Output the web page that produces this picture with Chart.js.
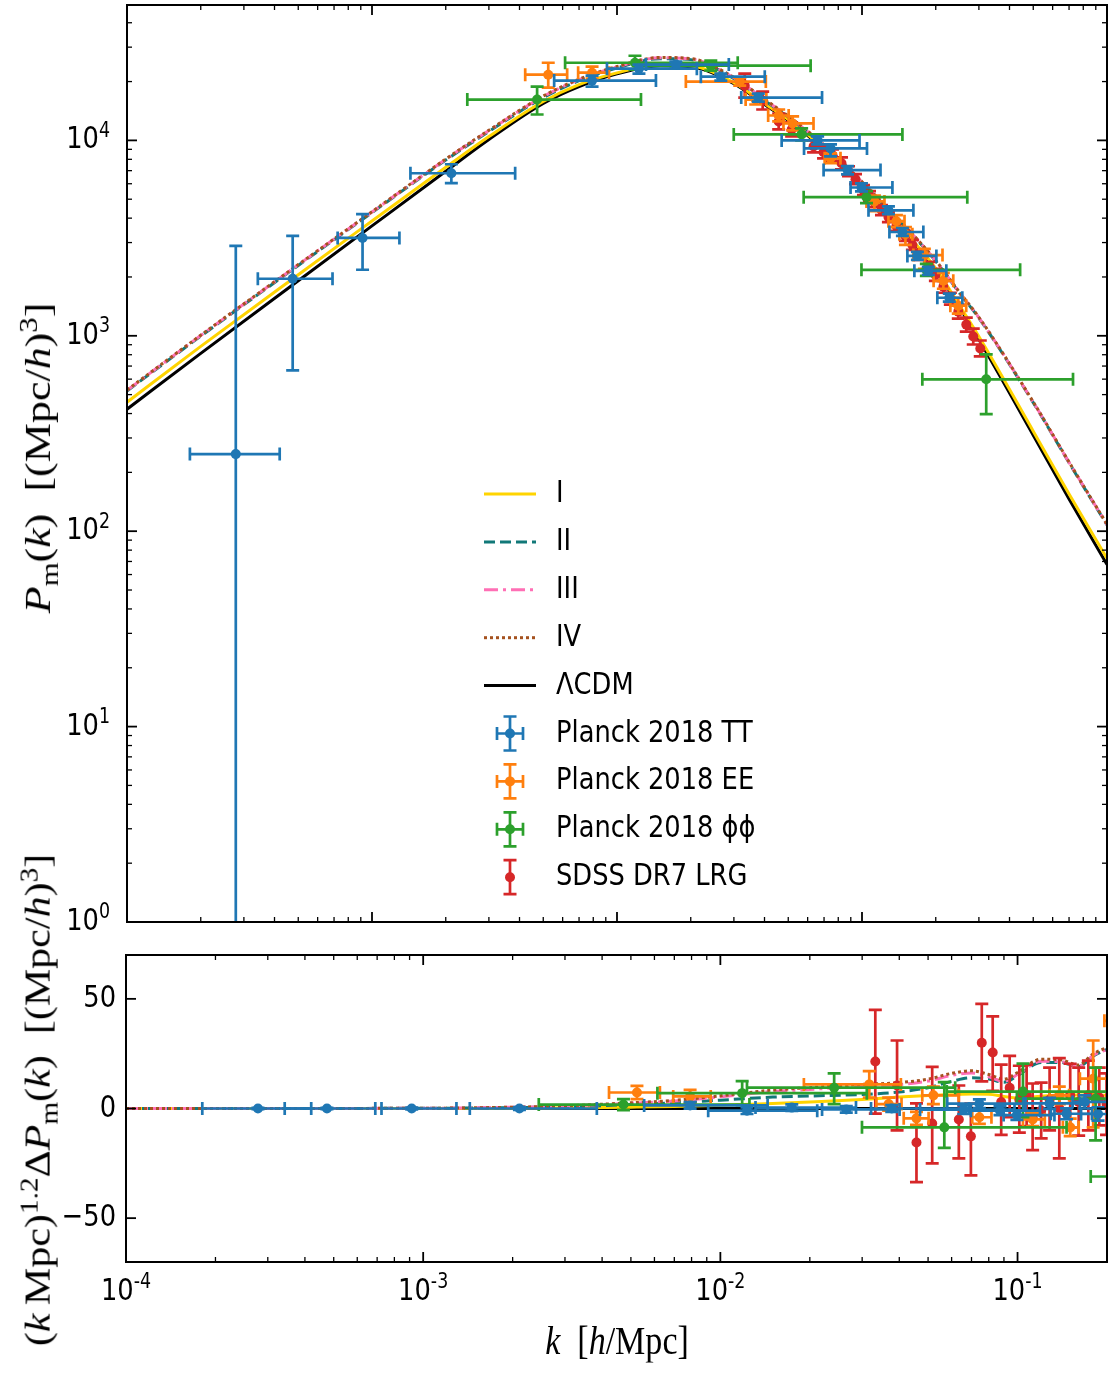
<!DOCTYPE html>
<html>
<head>
<meta charset="utf-8">
<script src="https://cdn.jsdelivr.net/npm/chart.js@4.4.1/dist/chart.umd.min.js"></script>
<style>
  html, body { margin: 0; padding: 0; background: #fff; }
  #wrap { position: relative; width: 1113px; height: 1382px; overflow: hidden; }
  #top { position: absolute; left: 0; top: 0; }
  #bot { position: absolute; left: 0; top: 940px; }
  .ttl { position: absolute; font-family: "Liberation Serif", "DejaVu Serif", serif; color: #000;
         white-space: nowrap; line-height: 1; }
  .ttl sub, .ttl sup { font-size: 70%; line-height: 0; }
  #ytop { left: 38px; top: 458px; font-size: 44px; transform: translate(-50%, -50%) scale(0.83, 1) rotate(-90deg); }
  #ybot { left: 38px; top: 1100px; font-size: 42px; transform: translate(-50%, -50%) scale(0.83, 1) rotate(-90deg); }
  #xlab { left: 617px; top: 1340px; font-size: 41px; transform: translate(-50%, -50%) scale(0.83, 1); }
</style>
</head>
<body>
<div id="wrap">
  <canvas id="top" width="1113" height="940"></canvas>
  <canvas id="bot" width="1113" height="442"></canvas>
  <div class="ttl" id="ytop"><i>P</i><sub>m</sub>(<i>k</i>)&nbsp;&nbsp;[(Mpc/<i>h</i>)<sup>3</sup>]</div>
  <div class="ttl" id="ybot">(<i>k</i>&#8201;Mpc)<sup>1.2</sup>Δ<i>P</i><sub>m</sub>(<i>k</i>)&nbsp;&nbsp;[(Mpc/<i>h</i>)<sup>3</sup>]</div>
  <div class="ttl" id="xlab"><i>k</i>&nbsp;&nbsp;[<i>h</i>/Mpc]</div>
</div>
<script>
'use strict';

// model curves, P(k) in (Mpc/h)^3
const kCurve = [1e-4, 2e-4, 5e-4, 1e-3, 2e-3, 3e-3, 5e-3, 7e-3, 0.01, 0.015, 0.02, 0.03,
                0.04, 0.05, 0.07, 0.1, 0.13, 0.16, 0.2, 0.25, 0.3, 0.5, 0.7, 1.0];
const pLCDM = [421, 813, 1914, 3650, 6950, 10100, 15450, 18850, 21900, 24100, 23800, 19500,
               15250, 12650, 9000, 5830, 4100, 3060, 2180, 1395, 957, 310, 146, 67.6];
const pI    = [457, 883, 2054, 3870, 7280, 10460, 15820, 19300, 22160, 24390, 24090, 19730,
               15430, 12800, 9110, 5900, 4150, 3100, 2210, 1428, 991, 325, 155, 72.5];
const pII   = [522, 996, 2290, 4270, 7930, 11100, 16550, 20200, 23500, 26200, 25900, 20700,
               16000, 13150, 9350, 6080, 4330, 3300, 2410, 1655, 1232, 455, 224, 107.5];
const pIII  = [526, 1004, 2308, 4300, 8000, 11220, 16780, 20470, 23780, 26460, 26130, 20920,
               16180, 13260, 9430, 6110, 4350, 3320, 2420, 1663, 1239, 457, 225, 108];
const pIV   = [528, 1007, 2315, 4315, 8030, 11270, 16860, 20560, 23880, 26560, 26230, 21000,
               16250, 13320, 9480, 6140, 4370, 3335, 2430, 1670, 1244, 459, 226, 108.5];

// residual curves, (k Mpc)^1.2 dP
const kRes  = [1e-4, 1e-3, 2e-3, 3e-3, 5e-3, 7e-3, 0.01, 0.015, 0.02, 0.03, 0.04, 0.05,
               0.06, 0.07, 0.08, 0.09, 0.1, 0.12, 0.14, 0.16, 0.18, 0.2];
const rLCDM = [0, 0, 0, 0, 0, 0, 0, 0, 0, 0, 0, 0, 0, 0, 0, 0, 0, 0, 0, 0, 0, 0];
const rI    = [0, 0, 0.1, 0.3, 0.6, 0.9, 1.5, 2.3, 3.0, 4.1, 5.2, 5.9, 6.3, 6.6, 6.5, 5.5, 4.8, 5.6, 6.2, 6.2, 6.0, 6.0];
const rII   = [0, 0.1, 0.4, 0.8, 1.8, 2.6, 3.8, 5.2, 5.7, 6.4, 7.5, 9.5, 12.4, 14.0, 13.5, 12.0, 15.0, 21.0, 21.0, 19.0, 24.0, 27.0];
const rIII  = [0, 0.1, 0.6, 1.1, 2.4, 3.4, 5.3, 7.8, 8.7, 10.2, 10.9, 12.5, 15.1, 16.2, 14.5, 12.4, 15.5, 21.5, 21.4, 19.0, 24.3, 27.0];
const rIV   = [0, 0.1, 0.6, 1.2, 2.6, 3.7, 5.8, 8.4, 9.5, 11.0, 11.8, 13.4, 16.0, 17.2, 15.5, 13.4, 16.4, 22.5, 22.2, 19.8, 25.0, 27.8];

// Planck 2018 TT
const kTT   = [2.78e-4, 4.745e-4, 9.15e-4, 2.108e-3, 7.91e-3, 1.229e-2, 1.739e-2, 2.653e-2, 3.773e-2,
               6.59e-2, 7.44e-2, 8.73e-2, 9.95e-2, 0.1282, 0.1462, 0.1683, 0.1866, 0.2272];
const kTTlo = [1.806e-4, 3.42e-4, 7.24e-4, 1.435e-3, 5.54e-3, 9.10e-3, 1.313e-2, 2.199e-2, 3.214e-2,
               4.70e-2, 5.80e-2, 6.97e-2, 8.98e-2, 0.1063, 0.1294, 0.1532, 0.1636, 0.2030];
const kTThi = [4.20e-4, 6.90e-4, 1.294e-3, 3.84e-3, 1.442e-2, 2.118e-2, 2.86e-2, 4.01e-2, 6.87e-2,
               9.77e-2, 0.1048, 0.1190, 0.1331, 0.1621, 0.1780, 0.2012, 0.2209, 0.2567];
const pTT   = [248, 1958, 3167, 6790, 20230, 23270, 24430, 21180, 16560, 10000, 9100, 7050, 5740, 4385, 3398, 2564, 2150, 1566];
const pTTlo = [0.3, 665, 2177, 6040, 18850, 21950, 23270, 20230, 15800, 9540, 8285, 6700, 5480, 4190, 3242, 2446, 2052, 1494];
const pTThi = [2884, 3243, 4198, 7550, 21430, 24430, 25300, 21950, 17370, 10480, 9540, 7390, 6020, 4595, 3562, 2688, 2254, 1642];
const dTT   = [0, 0, 0, 0, 1.4, -1, 0.4, -0.4, 0, -0.5, 2.2, -1, -3, 2.3, -2.4, 3, -2.5, -2];
const dTTlo = [-0.3, -0.3, -0.4, -0.6, -0.1, -2.5, -1.1, -1.9, -1.5, -2.5, 0.2, -3, -5.2, -0.2, -4.9, 0, -5.5, -5];
const dTThi = [0.3, 0.3, 0.4, 0.6, 2.9, 0.5, 1.9, 1.1, 1.5, 1.5, 4.2, 1, -0.8, 4.8, 0.1, 6, 0.5, 1];

// Planck 2018 EE
const kEE   = [5.24e-3, 7.91e-3, 3.17e-2, 3.684e-2, 4.57e-2, 5.21e-2, 7.44e-2, 0.1124, 0.1382, 0.1504, 0.1797, 0.2148, 0.2472];
const kEElo = [4.22e-3, 6.94e-3, 1.91e-2, 3.35e-2, 4.14e-2, 4.78e-2, 7.04e-2, 0.1043, 0.1282, 0.1421, 0.1621, 0.196, 0.2294];
const kEEhi = [6.26e-3, 9.28e-3, 4.05e-2, 4.07e-2, 5.02e-2, 6.34e-2, 8.17e-2, 0.1235, 0.1491, 0.1606, 0.2131, 0.2358, 0.2663];
const pEE   = [21690, 22210, 19990, 16180, 13410, 12210, 8094, 4873, 3855, 3311, 2588, 1912, 1426];
const pEElo = [18630, 20700, 19070, 15260, 12500, 11250, 7636, 4350, 3597, 2917, 2202, 1741, 1298];
const pEEhi = [24970, 23830, 20940, 17160, 14390, 13260, 8585, 5222, 4140, 3597, 2784, 2100, 1566];
const dEE   = [7.3, 5.5, 11, 2, -4.5, 6, -4, -5, 6, -8.6, 13.6, 40, 0];
const dEElo = [4.3, 2.5, 5, -1, -7.5, 2, -7, -8, 2, -12.6, -8.6, 35, -5];
const dEEhi = [10.3, 8.5, 17, 5, -1.5, 10, -1, -2, 10, -4.6, 31, 45, 5];

// Planck 2018 phi-phi
const kPP   = [4.72e-3, 1.184e-2, 2.415e-2, 5.67e-2, 0.1043, 0.1831, 0.3214];
const kPPlo = [2.449e-3, 6.14e-3, 1.229e-2, 2.996e-2, 5.78e-2, 9.95e-2, 0.1763];
const kPPhi = [1.2527e-2, 3.11e-2, 6.17e-2, 0.1462, 0.2690, 0.4420, 0.7266];
const pPP   = [16180, 24970, 24120, 10730, 5124, 2176, 598.6];
const pPPlo = [13570, 23000, 22740, 10000, 4775, 2028, 397];
const pPPhi = [18850, 27110, 25570, 11510, 5496, 2334, 802.6];
const dPP   = [1.8, 7, 9.5, -8.6, 7.7, 4.5, -31];
const dPPlo = [-0.7, 1.5, 2, -18, -4, -14.5, -40];
const dPPhi = [4.3, 12.5, 16, 12, 20.5, 18.6, -22];

// SDSS DR7 LRG
const kSD   = [0.03322, 0.03932, 0.04570, 0.05162, 0.06345, 0.06967, 0.07580, 0.08249, 0.08810,
               0.09408, 0.1014, 0.1073, 0.1124, 0.1201, 0.1282, 0.1382, 0.1504, 0.1606, 0.1731,
               0.1884, 0.1993, 0.2148, 0.2294, 0.2472, 0.2665, 0.2845, 0.3039];
const pSD   = [19070, 15990, 12500, 11380, 9320, 8688, 8387, 7636, 6950, 6329, 5563, 5183, 4832, 4399,
               4052, 3646, 3242, 2917, 2594, 2254, 2052, 1782, 1548, 1329, 1141, 991, 861];
const pSDlo = [16560, 14390, 11380, 10480, 8688, 8094, 7816, 7117, 6554, 5969, 5245, 4889, 4556, 4148,
               3821, 3439, 3058, 2751, 2446, 2125, 1912, 1661, 1443, 1224, 1051, 902.5, 784];
const pSDhi = [21950, 17770, 13730, 12350, 10000, 9320, 9000, 8190, 7372, 6712, 5899, 5498, 5124, 4665,
               4297, 3867, 3439, 3093, 2751, 2389, 2202, 1912, 1661, 1443, 1239, 1089, 946];
const dSD   = [21.4, 10.5, -15.5, -6.8, -5, -12.7, 30, 25.5, 3, 9.5, 4, 6, -4, -1, 4, 0, 6, 3, 6, 5, 2, 0, 0, 0, 0, 0, 0];
const dSDlo = [-2.3, -10, -33.6, -25, -22.7, -30.5, 12.4, 8, -12, -4, -11, -8, -19, -13.6, -10, -22.7,
               -8.6, -12.4, -10, -7.7, -12, -12, -12, -12, -12, -12, -12];
const dSDhi = [45, 31, 2.3, 19, 10.5, 2.2, 47.7, 42, 20, 24, 19.5, 20, 11.4, 11.8, 18.6, 23, 20.4,
               18.6, 21.8, 18.6, 16, 12, 12, 12, 12, 12, 12];

const LEGEND_ORDER = ['I', 'II', 'III', 'IV', 'ΛCDM', 'Planck 2018 TT', 'Planck 2018 EE', 'Planck 2018 ϕϕ', 'SDSS DR7 LRG'];

const COL = { I: '#ffd400', II: '#117878', III: '#ff6fb5', IV: '#a5521f', L: '#000000',
              TT: '#1f77b4', EE: '#ff7f0e', PP: '#2ca02c', SD: '#d62728' };
const SQZ = 0.83;   // the figure is a bit narrower than tall
const CAP = 6.5;
const ERR_W = 2.7;
const FONT = '"DejaVu Sans", "Liberation Sans", sans-serif';

function pts(xs, ys) { return xs.map((x, i) => ({ x, y: ys[i] })); }

function curve(label, xs, ys, color, dash, order) {
  return { label, data: pts(xs, ys), showLine: true, borderColor: color, backgroundColor: color,
           borderWidth: 3, borderDash: dash, pointRadius: 0, cubicInterpolationMode: 'monotone',
           order, kind: 'line' };
}

function points(label, xs, ys, color, err, order) {
  return { label, data: pts(xs, ys), showLine: false, backgroundColor: color, borderColor: color,
           pointRadius: 5, pointBorderWidth: 0, order, err, kind: 'err' };
}

function sqText(ctx, txt, x, y, size, align) {
  ctx.save();
  ctx.font = size + 'px ' + FONT;
  ctx.translate(x, y);
  ctx.scale(SQZ, 1);
  ctx.textAlign = align;
  ctx.textBaseline = 'middle';
  ctx.fillStyle = '#000';
  ctx.fillText(txt, 0, 0);
  ctx.restore();
}

function textW(ctx, txt, size) {
  ctx.font = size + 'px ' + FONT;
  return ctx.measureText(txt).width * SQZ;
}

function powLabel(ctx, exp, x, y, align) {
  const w1 = textW(ctx, '10', 31), w2 = textW(ctx, exp, 21);
  const x0 = align === 'right' ? x - w1 - w2 : x - (w1 + w2) / 2;
  sqText(ctx, '10', x0, y, 31, 'left');
  sqText(ctx, exp, x0 + w1, y - 9, 21, 'left');
}

function logTicks(min, max) {
  const out = [];
  for (let d = Math.floor(Math.log10(min)); d <= Math.ceil(Math.log10(max)); d++) {
    for (let m = 1; m < 10; m++) {
      const v = m * Math.pow(10, d);
      if (v >= min * 0.999 && v <= max * 1.001) out.push({ v, major: m === 1, d });
    }
  }
  return out;
}

function drawErr(ctx, e, i, x, y, px, py) {
  ctx.beginPath();
  if (e.xlo) {
    const x1 = x.getPixelForValue(e.xlo[i]), x2 = x.getPixelForValue(e.xhi[i]);
    ctx.moveTo(x1, py); ctx.lineTo(x2, py);
    ctx.moveTo(x1, py - CAP); ctx.lineTo(x1, py + CAP);
    ctx.moveTo(x2, py - CAP); ctx.lineTo(x2, py + CAP);
  }
  const y1 = y.getPixelForValue(e.ylo[i]), y2 = y.getPixelForValue(e.yhi[i]);
  ctx.moveTo(px, y1); ctx.lineTo(px, y2);
  ctx.moveTo(px - CAP, y1); ctx.lineTo(px + CAP, y1);
  ctx.moveTo(px - CAP, y2); ctx.lineTo(px + CAP, y2);
  ctx.stroke();
}

const errorBars = {
  id: 'errorBars',
  beforeDatasetDraw(chart, args) {
    const ds = chart.data.datasets[args.index];
    if (!ds.err) return;
    const { ctx, chartArea: a, scales: { x, y } } = chart;
    ctx.save();
    ctx.beginPath();
    ctx.rect(a.left, a.top, a.right - a.left, a.bottom - a.top);
    ctx.clip();
    ctx.strokeStyle = ds.borderColor;
    ctx.lineWidth = ERR_W;
    ds.data.forEach((p, i) => {
      drawErr(ctx, ds.err, i, x, y, x.getPixelForValue(p.x), y.getPixelForValue(p.y));
    });
    ctx.restore();
  }
};

// frame, inward ticks on all four sides, tick labels
function framePlugin(cfg) {
  return {
    id: 'frame' + cfg.name,
    afterDatasetsDraw(chart) {
      const { ctx, chartArea: a, scales: { x, y } } = chart;
      ctx.save();
      ctx.strokeStyle = '#000';
      const tick = (x1, y1, x2, y2, w) => {
        ctx.lineWidth = w; ctx.beginPath(); ctx.moveTo(x1, y1); ctx.lineTo(x2, y2); ctx.stroke();
      };
      logTicks(x.min, x.max).forEach(t => {
        const px = x.getPixelForValue(t.v), len = t.major ? 10 : 5, w = t.major ? 1.8 : 1.3;
        tick(px, a.bottom, px, a.bottom - len, w);
        tick(px, a.top, px, a.top + len, w);
        if (cfg.xLabels && t.major) powLabel(ctx, '-' + Math.abs(t.d), px, a.bottom + 30, 'center');
      });
      if (cfg.ylog) {
        logTicks(y.min, y.max).forEach(t => {
          const py = y.getPixelForValue(t.v), len = t.major ? 10 : 5, w = t.major ? 1.8 : 1.3;
          tick(a.left, py, a.left + len, py, w);
          tick(a.right, py, a.right - len, py, w);
          if (t.major) powLabel(ctx, String(t.d), a.left - 17, py, 'right');
        });
      } else {
        cfg.yTicks.forEach((v, i) => {
          const py = y.getPixelForValue(v);
          tick(a.left, py, a.left + 10, py, 1.8);
          tick(a.right, py, a.right - 10, py, 1.8);
          sqText(ctx, cfg.yTickText[i], a.left - 10, py, 31, 'right');
        });
      }
      ctx.lineWidth = 2;
      ctx.strokeRect(a.left, a.top, a.right - a.left, a.bottom - a.top);
      ctx.restore();
      if (cfg.legend) drawLegend(chart);
    }
  };
}

function drawLegend(chart) {
  const ctx = chart.ctx;
  const x0 = 484, x1 = 536, xm = 510, tx = 556;
  LEGEND_ORDER.forEach((label, i) => {
    const ds = chart.data.datasets.find(d => d.label === label);
    const yy = 494 + 47.9 * i;
    ctx.save();
    if (ds.kind === 'line') {
      ctx.strokeStyle = ds.borderColor;
      ctx.lineWidth = ds.borderWidth;
      ctx.setLineDash(ds.borderDash);
      ctx.beginPath(); ctx.moveTo(x0, yy); ctx.lineTo(x1, yy); ctx.stroke();
    } else {
      ctx.strokeStyle = ds.borderColor;
      ctx.lineWidth = ERR_W;
      ctx.beginPath();
      if (ds.err.xlo) {
        ctx.moveTo(xm - 13, yy); ctx.lineTo(xm + 13, yy);
        ctx.moveTo(xm - 13, yy - CAP); ctx.lineTo(xm - 13, yy + CAP);
        ctx.moveTo(xm + 13, yy - CAP); ctx.lineTo(xm + 13, yy + CAP);
      }
      ctx.moveTo(xm, yy - 17); ctx.lineTo(xm, yy + 17);
      ctx.moveTo(xm - CAP, yy - 17); ctx.lineTo(xm + CAP, yy - 17);
      ctx.moveTo(xm - CAP, yy + 17); ctx.lineTo(xm + CAP, yy + 17);
      ctx.stroke();
      ctx.fillStyle = ds.backgroundColor;
      ctx.beginPath(); ctx.arc(xm, yy, 5, 0, Math.PI * 2); ctx.fill();
    }
    ctx.restore();
    sqText(ctx, label, tx, yy, 31, 'left');
  });
}

const topData = [
  curve('ΛCDM', kCurve, pLCDM, COL.L, [], 10),
  curve('I', kCurve, pI, COL.I, [], 9),
  curve('II', kCurve, pII, COL.II, [11, 5], 8),
  curve('III', kCurve, pIII, COL.III, [14, 5, 3, 5], 7),
  curve('IV', kCurve, pIV, COL.IV, [3, 3], 6),
  points('SDSS DR7 LRG', kSD, pSD, COL.SD, { ylo: pSDlo, yhi: pSDhi }, 4),
  points('Planck 2018 EE', kEE, pEE, COL.EE, { xlo: kEElo, xhi: kEEhi, ylo: pEElo, yhi: pEEhi }, 3),
  points('Planck 2018 ϕϕ', kPP, pPP, COL.PP, { xlo: kPPlo, xhi: kPPhi, ylo: pPPlo, yhi: pPPhi }, 2),
  points('Planck 2018 TT', kTT, pTT, COL.TT, { xlo: kTTlo, xhi: kTThi, ylo: pTTlo, yhi: pTThi }, 1),
];

const botData = [
  curve('ΛCDM', kRes, rLCDM, COL.L, [], 10),
  curve('I', kRes, rI, COL.I, [], 9),
  curve('II', kRes, rII, COL.II, [11, 5], 8),
  curve('III', kRes, rIII, COL.III, [14, 5, 3, 5], 7),
  curve('IV', kRes, rIV, COL.IV, [3, 3], 6),
  points('SDSS DR7 LRG', kSD, dSD, COL.SD, { ylo: dSDlo, yhi: dSDhi }, 4),
  points('Planck 2018 EE', kEE, dEE, COL.EE, { xlo: kEElo, xhi: kEEhi, ylo: dEElo, yhi: dEEhi }, 3),
  points('Planck 2018 ϕϕ', kPP, dPP, COL.PP, { xlo: kPPlo, xhi: kPPhi, ylo: dPPlo, yhi: dPPhi }, 2),
  points('Planck 2018 TT', kTT, dTT, COL.TT, { xlo: kTTlo, xhi: kTThi, ylo: dTTlo, yhi: dTThi }, 1),
];

const baseOpts = (pad, xmax, y) => ({
  responsive: false,
  animation: false,
  events: [],
  layout: { padding: pad },
  scales: {
    x: { type: 'logarithmic', min: 1e-4, max: xmax, display: false },
    y: Object.assign({ display: false }, y),
  },
  plugins: { legend: { display: false }, tooltip: { enabled: false } },
});

new Chart(document.getElementById('top'), {
  type: 'scatter',
  data: { datasets: topData },
  options: baseOpts({ left: 127, right: 6, top: 1, bottom: 18 }, 1, { type: 'logarithmic', min: 1, max: 49300 }),
  plugins: [errorBars, framePlugin({ name: 'Top', ylog: true, legend: true })],
});

new Chart(document.getElementById('bot'), {
  type: 'scatter',
  data: { datasets: botData },
  options: baseOpts({ left: 126, right: 6, top: 15, bottom: 120 }, 0.2, { type: 'linear', min: -70, max: 70 }),
  plugins: [errorBars, framePlugin({ name: 'Bot', ylog: false, xLabels: true,
                                     yTicks: [50, 0, -50], yTickText: ['50', '0', '−50'] })],
});
</script>
</body>
</html>
